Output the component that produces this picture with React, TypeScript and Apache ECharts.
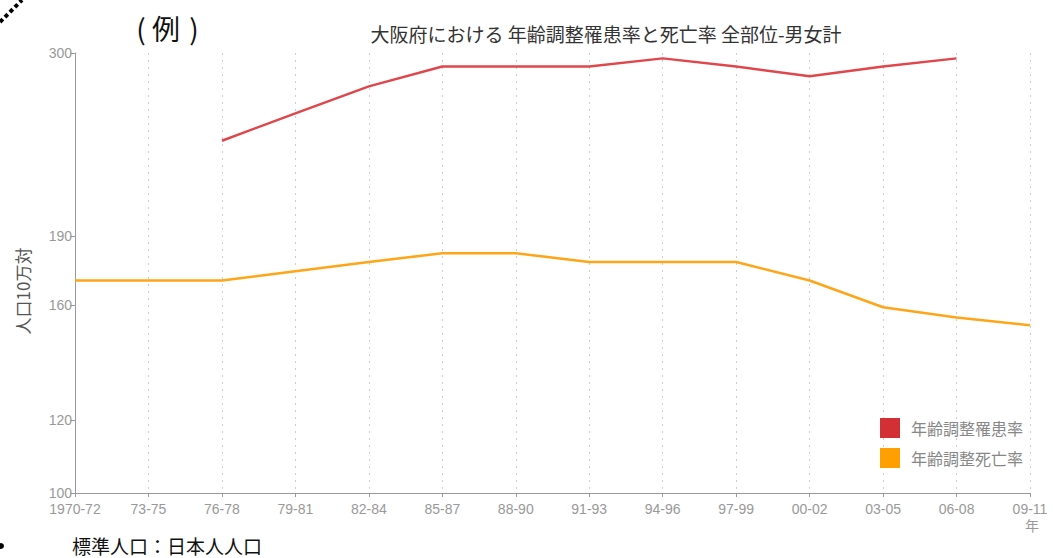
import React, { useEffect, useRef } from "react";
import * as echarts from "echarts";

const categories = ["1970-72", "73-75", "76-78", "79-81", "82-84", "85-87", "88-90", "91-93", "94-96", "97-99", "00-02", "03-05", "06-08", "09-11"];
const incidence = [null, null, 241, 258, 276, 290, 290, 290, 296, 290, 283, 290, 296, null];
const mortality = [170, 170, 170, 174, 178, 182, 182, 178, 178, 178, 170, 159, 155, 152];
const yTicks = [100, 120, 160, 190, 300];
const seriesNames = ["年齢調整罹患率", "年齢調整死亡率"];

const CJK = '"Noto Sans CJK JP", "Noto Sans", sans-serif';
const LAT = '"Liberation Sans", Arial, sans-serif';

export default function App() {
  const ref = useRef<HTMLDivElement>(null);
  useEffect(() => {
    document.body.style.margin = "0";
    const chart = echarts.init(ref.current!, null, { renderer: "svg" });
    chart.setOption({
      animation: false,
      backgroundColor: "#ffffff",
      title: {
        text: "大阪府における 年齢調整罹患率と死亡率 全部位-男女計",
        left: 601,
        top: 19,
        textAlign: "center",
        textStyle: { fontFamily: CJK, fontSize: 19, fontWeight: "normal", color: "#333" },
      },
      grid: { left: 75, right: 23, top: 53, bottom: 65 },
      legend: {
        orient: "vertical",
        left: 875,
        top: 413,
        itemWidth: 20,
        itemHeight: 20,
        itemGap: 10,
        icon: "rect",
        data: seriesNames,
        textStyle: { fontFamily: CJK, fontSize: 16, color: "#888", padding: [0, 0, 0, 6] },
      },
      xAxis: {
        type: "category",
        data: categories,
        boundaryGap: false,
        axisLine: { lineStyle: { color: "#999", width: 1 } },
        axisTick: { show: true, length: 4, lineStyle: { color: "#999" } },
        axisLabel: { fontFamily: LAT, fontSize: 14, color: "#999", margin: 9 },
        splitLine: { show: true, lineStyle: { color: "#ccc", type: [2, 5], width: 1 } },
      },
      yAxis: {
        type: "log",
        logBase: 10,
        min: 100,
        max: 300,
        axisLine: { show: true, lineStyle: { color: "#999", width: 1 } },
        axisTick: { show: true, length: 5, lineStyle: { color: "#999" }, customValues: yTicks },
        axisLabel: { fontFamily: LAT, fontSize: 14, color: "#999", margin: 3, customValues: yTicks },
        splitLine: { show: false },
        minorTick: { show: false },
      },
      series: [
        {
          name: seriesNames[0],
          type: "line",
          data: incidence,
          showSymbol: false,
          symbol: "none",
          connectNulls: false,
          itemStyle: { color: "#d33035" },
          lineStyle: { color: "#e0474c", width: 2.5 },
        },
        {
          name: seriesNames[1],
          type: "line",
          data: mortality,
          showSymbol: false,
          symbol: "none",
          itemStyle: { color: "#ff9f00" },
          lineStyle: { color: "#ffa518", width: 2.5 },
        },
      ],
      graphic: [
        {
          type: "text",
          x: 141,
          y: 28,
          style: { text: "(", font: `28px ${CJK}`, fill: "#111", align: "center", verticalAlign: "middle" },
        },
        {
          type: "text",
          x: 166,
          y: 28,
          style: { text: "例", font: `28px ${CJK}`, fill: "#111", align: "center", verticalAlign: "middle" },
        },
        {
          type: "text",
          x: 194,
          y: 28,
          style: { text: ")", font: `28px ${CJK}`, fill: "#111", align: "center", verticalAlign: "middle" },
        },
        {
          type: "text",
          x: 22,
          y: 291,
          rotation: Math.PI / 2,
          style: { text: "人口10万対", font: `17px ${CJK}`, fill: "#555", align: "center", verticalAlign: "middle" },
        },
        {
          type: "text",
          x: 1032,
          y: 525,
          style: { text: "年", font: `14px ${CJK}`, fill: "#999", align: "center", verticalAlign: "middle" },
        },
        {
          type: "text",
          left: 72,
          top: 536,
          style: { text: "標準人口：日本人人口", font: `19px ${CJK}`, fill: "#111" },
        },
        {
          type: "line",
          shape: { x1: 0, y1: 22, x2: 22, y2: 0 },
          style: { stroke: "#000", lineWidth: 4, lineDash: [4, 3] },
        },
        {
          type: "circle",
          shape: { cx: 1, cy: 546, r: 3 },
          style: { fill: "#000" },
        },
      ],
    });
    return () => chart.dispose();
  }, []);
  return <div ref={ref} style={{ width: 1053, height: 558 }} />;
}
